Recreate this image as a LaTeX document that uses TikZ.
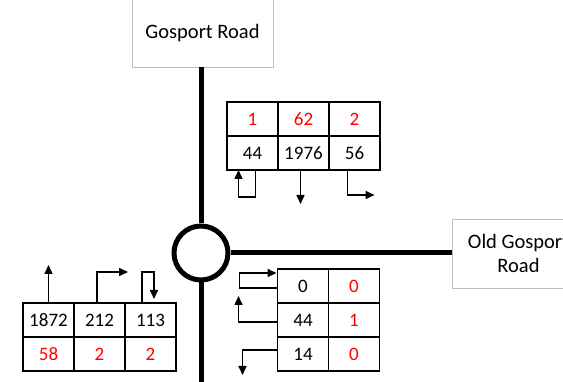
\documentclass[tikz,border=0pt]{standalone}
\usepackage{fontspec}
\setmainfont{Carlito}
\usepackage{xcolor}
\usetikzlibrary{positioning,arrows.meta}
\definecolor{cntred}{RGB}{255,0,0}

\begin{document}
\begin{tikzpicture}[x=1pt,y=-1pt,
    cell/.style={draw, line width=1.6pt, outer sep=0pt, inner sep=0pt,
      minimum width=51pt, minimum height=34pt, font=\fontsize{19}{21}\selectfont},
    red cell/.style={cell, text=cntred},
    roadname/.style={draw=black!25, line width=0.8pt, fill=white, align=center,
      font=\fontsize{20.5}{24}\selectfont},
    road/.style={line width=5pt},
    arr/.style={line width=1.6pt, -{Triangle[length=9pt,width=8pt]}}]
  \useasboundingbox (0,0) rectangle (563,382);

  % roads
  \node[roadname, minimum width=141pt, minimum height=68pt] (gr) at (202.5,33) {Gosport Road};
  \node[roadname, minimum width=133pt, minimum height=69pt] (ogr) at (518.5,253.5) {Old Gosport\\Road};
  \node[draw, circle, line width=5pt, minimum size=54pt] (rb) at (201,253) {};
  \coordinate (rend) at (201,386);
  \draw[road] (rb.north) -- (rb.north |- gr.south);
  \draw[road] (rb.east) -- (ogr.west |- rb.east);
  \draw[road] (rb.south) -- (rend);

  % north arm counts
  \node[red cell] (t11) at (252.5,119) {1};
  \node[red cell] (t12) [right=0pt of t11] {62};
  \node[red cell] (t13) [right=0pt of t12] {2};
  \node[cell] (t21) [below=0pt of t11] {44};
  \node[cell] (t22) [below=0pt of t12] {1976};
  \node[cell] (t23) [below=0pt of t13] {56};
  \draw[arr] ([xshift=3pt]t21.south) -- ++(0,27) -| ([xshift=-14pt]t21.south);
  \draw[arr] ([xshift=-3pt]t22.south) -- ++(0,34);
  \draw[arr] ([xshift=-7pt]t23.south) -- ++(0,25) -- ++(27,0);

  % south arm counts
  \node[cell] (l11) at (48.5,320) {1872};
  \node[cell] (l12) [right=0pt of l11] {212};
  \node[cell] (l13) [right=0pt of l12] {113};
  \node[red cell] (l21) [below=0pt of l11] {58};
  \node[red cell] (l22) [below=0pt of l12] {2};
  \node[red cell] (l23) [below=0pt of l13] {2};
  \draw[arr] (l11.north) -- ++(0,-38);
  \draw[arr] ([xshift=-2.5pt]l12.north) -- ++(0,-31) -- ++(31,0);
  \draw[arr] ([xshift=-8.5pt]l13.north) -- ++(0,-31) -- ++(12,0) -- ++(0,27);

  % east arm counts
  \node[cell] (r11) at (303,286) {0};
  \node[red cell] (r12) [right=0pt of r11] {0};
  \node[cell] (r21) [below=0pt of r11] {44};
  \node[red cell] (r22) [right=0pt of r21] {1};
  \node[cell] (r31) [below=0pt of r21] {14};
  \node[red cell] (r32) [right=0pt of r31] {0};
  \draw[arr] ([yshift=-2pt]r11.west) -- ++(-38,0) -- ++(0,-15) -- ++(37,0);
  \draw[arr] ([yshift=-2pt]r21.west) -- ++(-39,0) -- ++(0,-26);
  \draw[arr] ([yshift=4pt]r31.west) -- ++(-35,0) -- ++(0,25);
\end{tikzpicture}
\end{document}
